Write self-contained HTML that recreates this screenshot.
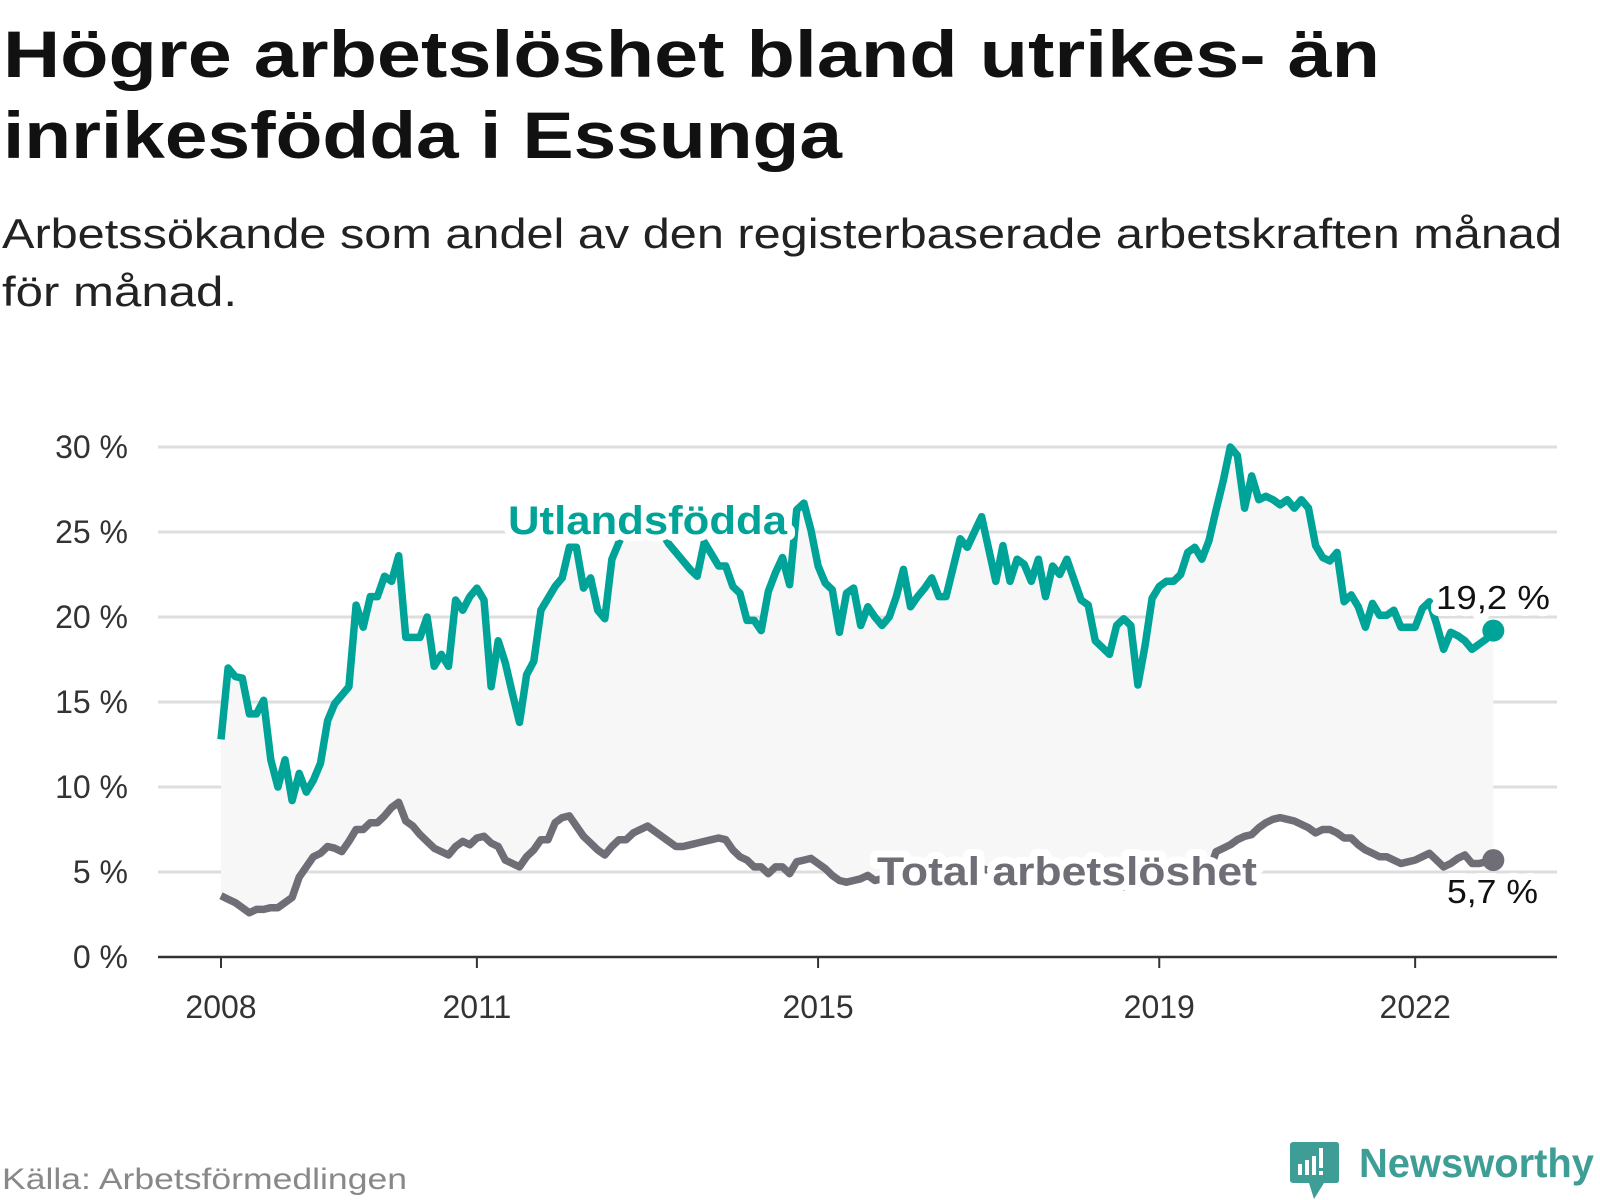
<!DOCTYPE html>
<html><head><meta charset="utf-8"><style>
html,body{margin:0;padding:0;background:#fff;}
svg{display:block;font-family:"Liberation Sans",sans-serif;}
</style></head><body>
<svg id="chart" width="1600" height="1200" viewBox="0 0 1600 1200">
<text x="3" y="77" font-size="66" font-weight="bold" fill="#111" textLength="1377" lengthAdjust="spacingAndGlyphs">Högre arbetslöshet bland utrikes- än</text>
<text x="3" y="158" font-size="66" font-weight="bold" fill="#111" textLength="839" lengthAdjust="spacingAndGlyphs">inrikesfödda i Essunga</text>
<text x="2" y="248" font-size="42" fill="#222" textLength="1560" lengthAdjust="spacingAndGlyphs">Arbetssökande som andel av den registerbaserade arbetskraften månad</text>
<text x="2" y="306" font-size="42" fill="#222" textLength="235" lengthAdjust="spacingAndGlyphs">för månad.</text>
<g id="grid"></g>
<g id="plot"></g>
<g id="axes"></g>
<text x="2" y="1189" font-size="30" fill="#888" textLength="405" lengthAdjust="spacingAndGlyphs">Källa: Arbetsförmedlingen</text>
<g>
<path d="M1294 1142 H1336 Q1339 1142 1339 1145 V1180 Q1339 1183 1336 1183 H1324 L1314 1199 L1309 1183 H1294 Q1290 1183 1290 1180 V1145 Q1290 1142 1294 1142 Z" fill="#3e9e96"/>
<rect x="1298" y="1164" width="4" height="11" fill="#fff"/>
<rect x="1305" y="1160" width="4" height="15" fill="#fff"/>
<rect x="1312" y="1156" width="4" height="19" fill="#fff"/>
<rect x="1319" y="1148" width="4" height="20" fill="#fff"/>
<rect x="1319" y="1171" width="4" height="4" fill="#fff"/>
<text x="1359" y="1177" font-size="41" font-weight="bold" fill="#3e9e96" textLength="235" lengthAdjust="spacingAndGlyphs">Newsworthy</text>
</g>
</svg>
<script>
const yTicks = [0, 5, 10, 15, 20, 25, 30];
const yTickLabels = ["0 %", "5 %", "10 %", "15 %", "20 %", "25 %", "30 %"];
const xTickYears = [2008, 2011, 2015, 2019, 2022];
const startYear = 2008;
const utlandsfodda = [
12.8,17.0,16.5,16.4,14.3,14.3,15.1,11.6,10.0,11.6,
9.2,10.8,9.7,10.4,11.4,13.9,14.9,15.4,15.9,20.7,
19.4,21.2,21.2,22.4,22.1,23.6,18.8,18.8,18.8,20.0,
17.1,17.8,17.1,21.0,20.4,21.2,21.7,21.0,15.9,18.6,
17.3,15.5,13.8,16.6,17.4,20.4,21.1,21.8,22.3,24.1,
24.1,21.7,22.3,20.4,19.9,23.4,24.4,25.3,25.8,26.2,
26.2,25.6,25.0,24.3,23.8,23.3,22.8,22.4,24.4,23.7,
23.0,23.0,21.8,21.4,19.8,19.8,19.2,21.5,22.6,23.5,
21.9,26.3,26.7,25.1,23.0,22.0,21.6,19.1,21.4,21.7,
19.5,20.6,20.0,19.5,20.0,21.2,22.8,20.6,21.2,21.7,
22.3,21.2,21.2,22.9,24.6,24.1,25.0,25.9,24.0,22.1,
24.2,22.1,23.4,23.1,22.1,23.4,21.2,23.0,22.5,23.4,
22.2,21.0,20.7,18.6,18.2,17.8,19.5,19.9,19.5,16.0,
18.3,21.1,21.8,22.1,22.1,22.5,23.8,24.1,23.4,24.5,
26.3,28.0,30.0,29.5,26.4,28.3,26.9,27.1,26.9,26.6,
26.9,26.4,26.9,26.4,24.2,23.5,23.3,23.8,20.9,21.3,
20.6,19.4,20.8,20.1,20.1,20.4,19.4,19.4,19.4,20.5,
20.9,19.6,18.1,19.1,18.9,18.6,18.1,18.4,18.7,19.2];
const totalArbetsloshet = [
3.6,3.4,3.2,2.9,2.6,2.8,2.8,2.9,2.9,3.2,
3.5,4.7,5.3,5.9,6.1,6.5,6.4,6.2,6.8,7.5,
7.5,7.9,7.9,8.3,8.8,9.1,8.0,7.7,7.2,6.8,
6.4,6.2,6.0,6.5,6.8,6.6,7.0,7.1,6.7,6.5,
5.7,5.5,5.3,5.9,6.3,6.9,6.9,7.9,8.2,8.3,
7.7,7.1,6.7,6.3,6.0,6.5,6.9,6.9,7.3,7.5,
7.7,7.4,7.1,6.8,6.5,6.5,6.6,6.7,6.8,6.9,
7.0,6.9,6.3,5.9,5.7,5.3,5.3,4.9,5.3,5.3,
4.9,5.6,5.7,5.8,5.5,5.2,4.8,4.5,4.4,4.5,
4.6,4.8,4.5,4.6,4.7,4.8,4.9,5.0,5.0,5.1,
5.1,5.0,5.0,5.1,5.1,5.2,5.1,5.2,5.1,5.0,
4.9,4.9,4.8,4.7,4.6,4.6,4.5,4.5,4.4,4.4,
4.3,4.3,4.3,4.2,4.2,4.2,4.2,4.1,4.1,4.2,
4.2,4.2,4.2,4.3,4.3,4.4,4.5,4.6,4.8,5.0,
6.2,6.4,6.6,6.9,7.1,7.2,7.6,7.9,8.1,8.2,
8.1,8.0,7.8,7.6,7.3,7.5,7.5,7.3,7.0,7.0,
6.6,6.3,6.1,5.9,5.9,5.7,5.5,5.6,5.7,5.9,
6.1,5.7,5.3,5.5,5.8,6.0,5.5,5.5,5.6,5.7];

const NS = "http://www.w3.org/2000/svg";
const x0 = 221, monthW = 7.108, y0 = 957, unit = 17;
function xScale(i){ return x0 + i * monthW; }
function xYear(y){ return x0 + (y - startYear) * 12 * monthW; }
function yScale(v){ return y0 - v * unit; }
function mk(tag, attrs, parent){ const e = document.createElementNS(NS, tag); for (const k in attrs) e.setAttribute(k, attrs[k]); parent.appendChild(e); return e; }
const gridG = document.getElementById('grid'), plotG = document.getElementById('plot'), axesG = document.getElementById('axes');

yTicks.forEach((t, k) => {
  if (t !== 0) {
    const g = mk('line', {x1:158, x2:1557, y1:yScale(t), y2:yScale(t), stroke:'#dedede', 'stroke-width':3}, gridG);
    
    
  }
  const l = mk('text', {x:128, y:yScale(t) + 11, 'font-size':32, fill:'#333', 'text-anchor':'end'}, axesG);
  l.textContent = yTickLabels[k];
  
  
});

const upperPts = utlandsfodda.map((v,i)=>xScale(i).toFixed(1)+','+yScale(v).toFixed(1));
const lowerPts = totalArbetsloshet.map((v,i)=>xScale(i).toFixed(1)+','+yScale(v).toFixed(1)).reverse();
const area = mk('polygon', {points: upperPts.concat(lowerPts).join(' '), fill:'#f7f7f7'}, plotG);



const axisLine = mk('line', {x1:158, x2:1557, y1:y0, y2:y0, stroke:'#333', 'stroke-width':2.5}, axesG);


xTickYears.forEach(yr => {
  const x = xYear(yr);
  const t = mk('line', {x1:x, x2:x, y1:y0, y2:y0+11, stroke:'#333', 'stroke-width':2}, axesG);
  
  
  const l = mk('text', {x:x, y:1018, 'font-size':32, fill:'#333', 'text-anchor':'middle'}, axesG);
  l.textContent = String(yr);
  
  
});

function drawSeries(vals, color, name){
  const pts = vals.map((v,i)=>xScale(i).toFixed(1)+','+yScale(v).toFixed(1)).join(' ');
  const p = mk('polyline', {points:pts, fill:'none', stroke:color, 'stroke-width':7.5, 'stroke-linejoin':'round'}, plotG);
  
  
  const n = vals.length - 1;
  const c = mk('circle', {cx:xScale(n), cy:yScale(vals[n]), r:11, fill:color}, plotG);
  
  
}
drawSeries(totalArbetsloshet, '#6f6e76', 'total');
drawSeries(utlandsfodda, '#00a398', 'utlandsfodda');

function label(txt, x, y, size, color, bold, len, name, anchor){
  const a = {x:x, y:y, 'font-size':size, fill:color, stroke:'#fff', 'stroke-width':14, 'stroke-linejoin':'round', 'paint-order':'stroke', 'font-weight':bold?'bold':'normal'};
  if (len) { a.textLength = len; a.lengthAdjust = 'spacingAndGlyphs'; }
  if (anchor) a['text-anchor'] = anchor;
  const t = mk('text', a, plotG);
  t.textContent = txt;
  
  
}
label('Utlandsfödda', 508, 534, 40, '#00a398', true, 279, 'utlandsfodda-label');
label('Total arbetslöshet', 877, 885, 40, '#6f6e76', true, 380, 'total-label');
const nU = utlandsfodda.length - 1, nT = totalArbetsloshet.length - 1;
label(utlandsfodda[nU].toFixed(1).replace('.', ',') + ' %', 1550, 609, 33, '#111', false, 114, 'utlandsfodda-value-label', 'end');
label(totalArbetsloshet[nT].toFixed(1).replace('.', ',') + ' %', 1538, 903, 33, '#111', false, 91, 'total-value-label', 'end');
</script>
</body></html>
